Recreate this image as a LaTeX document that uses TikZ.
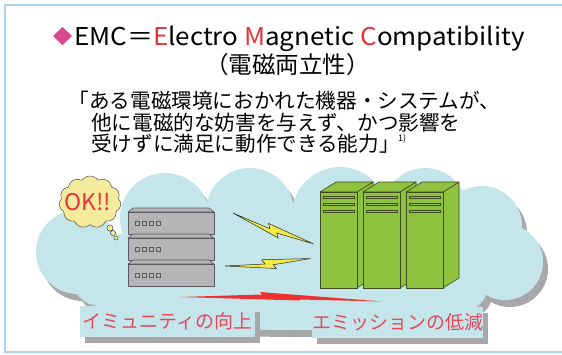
\documentclass[tikz,border=0pt]{standalone}
\usepackage{fontspec}
\setmainfont{Noto Sans CJK JP}
\newfontfamily\headfont[FakeStretch=1.06]{Noto Sans CJK JP}
\usetikzlibrary{shapes.symbols,shadows}

\definecolor{frameblue}{HTML}{A9D4EE}
\definecolor{diamondpink}{HTML}{D9478F}
\definecolor{emcred}{HTML}{E8333A}
\definecolor{tagred}{HTML}{E24A5C}
\definecolor{cloudblue}{HTML}{C4E6EA}
\definecolor{dropgray}{HTML}{A8A8AB}
\definecolor{okyellow}{HTML}{F4EC9C}
\definecolor{boltyellow}{HTML}{F0EA48}
\definecolor{srvgray}{HTML}{B5B5B7}
\definecolor{srvline}{HTML}{5A5A5C}
\definecolor{rackgreen}{HTML}{8FC23F}
\definecolor{rackline}{HTML}{3D4A22}
\definecolor{beamred}{HTML}{EE3030}

\begin{document}
\begin{tikzpicture}[x=1pt, y=-1pt,
  txt/.style={inner sep=0pt, anchor=base west},
  deftext/.style={txt, font=\fontsize{20.6}{22}\selectfont},
  tagbox/.style={fill=cloudblue, text=tagred, inner sep=0pt,
    minimum height=31pt, font=\fontsize{19}{20}\selectfont,
    general shadow={fill=dropgray, shadow xshift=5pt, shadow yshift=-6pt}},
  part/.style={line width=0.6pt, line join=round},
  boltline/.style={fill=boltyellow, draw=black!85, line width=0.5pt}]
\useasboundingbox (0,0) rectangle (562,354);

% panel border
\draw[frameblue, line width=1.8pt] (565,5) -- (5,5) -- (5,352) -- (565,352);

% heading
\fill[diamondpink] (62.5,27) -- (72,36) -- (62.5,45) -- (53,36) -- cycle;
\node[txt, font=\headfont\fontsize{24.5}{28}\selectfont] (title) at (74,45)
  {EMC＝{\color{emcred}E}lectro {\color{emcred}M}agnetic {\color{emcred}C}ompatibility};
\node[inner sep=0pt, anchor=base, font=\fontsize{23.5}{26}\selectfont] (kanji) at (287.5,73.5) {（電磁両立性）};

% definition
\node[deftext] (def1) at (68.5,108) {「ある電磁環境におかれた機器・システムが、};
\node[deftext] (def2) at (91,130) {他に電磁的な妨害を与えず、かつ影響を};
\node[deftext] (def3) at (91,151) {受けずに満足に動作できる能力」};
\node[txt, font=\fontsize{9}{10}\selectfont] (note) at (398,141) {1)};

% cloud with its shadow
\foreach \dx/\dy/\col in {5/7/dropgray, 0/0/cloudblue}
  \fill[\col, shift={(\dx,\dy)}] (78,252) circle (42) (100,278) circle (28)
    (165,218) circle (45) (250,212) circle (44) (340,215) circle (48)
    (425,210) circle (42) (482,226) circle (40) (505,262) circle (38)
    (465,288) circle (22)
    (300,265) ellipse [x radius=230, y radius=50]
    (290,300) ellipse [x radius=190, y radius=30];

% thought bubble
\node[cloud, cloud puffs=11, cloud puff arc=110, aspect=1.15,
  minimum width=62pt, minimum height=52pt, inner sep=0pt,
  fill=okyellow, draw=black!70, line width=0.5pt] (bubble) at (90,202) {};
\draw[fill=okyellow, draw=black!70, line width=0.5pt]
  (110,228) circle (3) (113,233) circle (2.5) (116,238) circle (2);
\node[text=emcred, inner sep=0pt, font=\fontsize{23}{24}\selectfont] (ok) at (88,202) {OK!!};

% stacked server
\foreach \t in {208,234,260} {
  \filldraw[part, fill=srvgray, draw=srvline] (128,\t+4) -- (133,\t) -- (209,\t) -- (214,\t+4) -- cycle;
  \filldraw[part, fill=srvgray, draw=srvline] (128,\t+4) rectangle (214,\t+26);
  \foreach \k in {0,...,3}
    \draw[srvline, line width=0.5pt] (135+\k*7,\t+13.5) rectangle +(4.5,3.5);
}

% rack towers
\foreach \x in {320,363,406} {
  \filldraw[part, fill=rackgreen, draw=rackline] (\x+37,192) -- (\x+53,182) -- (\x+53,278) -- (\x+37,288) -- cycle;
  \filldraw[part, fill=rackgreen, draw=rackline] (\x,192) -- (\x+16,182) -- (\x+53,182) -- (\x+37,192) -- cycle;
  \filldraw[part, fill=rackgreen, draw=rackline] (\x,192) rectangle (\x+37,288);
  \foreach \s in {196,203,210}
    \draw[rackline, line width=0.5pt] (\x+3,\s) rectangle (\x+34,\s+2.5);
}

% noise bolts
\foreach \sx/\sy/\ang in {233/213/-21, 225/266/5}
  \draw[boltline, shift={(\sx,\sy)}, rotate=\ang]
    (0,0) -- (40,1.5) -- (37,-3) -- (86,0) -- (48,3) -- (51,7) -- cycle;

% emission beam
\fill[beamred] (180,297) -- (262,294.5) -- (260,292) -- (382,301.5) -- (300,299.5) -- (300,300.5) -- cycle;

% goals
\node[tagbox, minimum width=175pt] (immunity) at (167.5,321.5) {イミュニティの向上};
\node[tagbox, minimum width=171pt] (emission) at (397.5,322) {エミッションの低減};
\end{tikzpicture}
\end{document}
